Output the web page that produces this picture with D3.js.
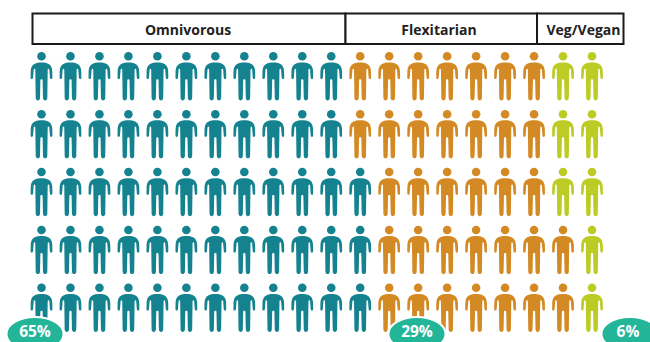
<!DOCTYPE html>
<html>
<head>
<meta charset="utf-8">
<script src="https://cdnjs.cloudflare.com/ajax/libs/d3/7.8.5/d3.min.js"></script>
<style>
  html, body { margin: 0; padding: 0; background: #fff; }
  svg { display: block; }
  text { font-family: "Open Sans", "Noto Sans", sans-serif; }
</style>
</head>
<body>
<svg id="chart" width="650" height="342"></svg>
<script>
// Diet groups and how many people of each stand in every row
const categories = ["Omnivorous", "Flexitarian", "Veg/Vegan"];
const omnivorousPerRow = [11, 11, 12, 12, 12];
const flexitarianPerRow = [7, 7, 6, 7, 7];
const vegPerRow = [2, 2, 2, 1, 1];
const shareLabels = ["65%", "29%", "6%"];

const colors = ["#14828f", "#d48a24", "#bccc24"];
const columnCount = 20;

const svg = d3.select("#chart");

// Column and row positions of the people
const x = d3.scalePoint().domain(d3.range(columnCount)).range([41.5, 592]);
const y = d3.scalePoint().domain(d3.range(omnivorousPerRow.length)).range([52, 283.5]);

// Person outline, origin at the top centre of the head
const body = "M0,10.4 C5,10.4 10.4,11.5 10.8,19 L10.9,25.4 C10.9,27.6 8.6,27.6 8.4,25.4 " +
  "L7.8,17.5 C7.7,16.4 6.3,16.4 6.2,17.5 L5.8,46 C5.7,49.2 1.6,49.2 1.5,46 L1.1,28 C1.1,27 -1.1,27 -1.1,28 " +
  "L-1.5,46 C-1.6,49.2 -5.7,49.2 -5.8,46 L-6.2,17.5 C-6.3,16.4 -7.7,16.4 -7.8,17.5 L-8.4,25.4 " +
  "C-8.6,27.6 -10.9,27.6 -10.9,25.4 L-10.8,19 C-10.4,11.5 -5,10.4 0,10.4 Z";

// One record per person, filled row by row from left to right
const perRow = [omnivorousPerRow, flexitarianPerRow, vegPerRow];
const people = omnivorousPerRow.flatMap((_, row) => {
  const groups = perRow.flatMap((counts, g) => d3.range(counts[row]).map(() => g));
  return groups.map((group, col) => ({ row, col, group }));
});

const person = svg.append("g").selectAll("g")
  .data(people)
  .join("g")
  .attr("transform", d => `translate(${x(d.col)},${y(d.row)})`)
  .attr("fill", d => colors[d.group]);

person.append("circle").attr("cy", 4.3).attr("r", 4.3);
person.append("path").attr("d", body);

// Header boxes above the columns
const headerEdges = [32.5, 345.5, 537, 623.5];
const headerLabelCentres = [188, 439, 583.5];
const header = svg.append("g").selectAll("g")
  .data(categories)
  .join("g");

header.append("rect")
  .attr("x", (d, i) => headerEdges[i])
  .attr("y", 13.5)
  .attr("width", (d, i) => headerEdges[i + 1] - headerEdges[i])
  .attr("height", 30.5)
  .attr("fill", "#fff")
  .attr("stroke", "#1a1a1a")
  .attr("stroke-width", 2);

header.append("text")
  .attr("x", (d, i) => headerLabelCentres[i])
  .attr("y", 34.5)
  .attr("text-anchor", "middle")
  .attr("font-weight", 700)
  .attr("font-size", 14)
  .attr("fill", "#222")
  .text(d => d);

// Share badges along the bottom edge
const badgeCentres = [35, 417, 630];
const badgeLabelCentres = [35, 417, 628];
const badge = svg.append("g").selectAll("g")
  .data(shareLabels)
  .join("g");

badge.append("ellipse")
  .attr("cx", (d, i) => badgeCentres[i])
  .attr("cy", 334)
  .attr("rx", 28.5)
  .attr("ry", 17)
  .attr("fill", "#22b598")
  .attr("stroke", "#fff")
  .attr("stroke-width", 2);

badge.append("text")
  .attr("x", (d, i) => badgeLabelCentres[i])
  .attr("y", 337)
  .attr("text-anchor", "middle")
  .attr("font-weight", 700)
  .attr("font-size", 15.5)
  .attr("fill", "#fff")
  .text(d => d);
</script>
</body>
</html>
